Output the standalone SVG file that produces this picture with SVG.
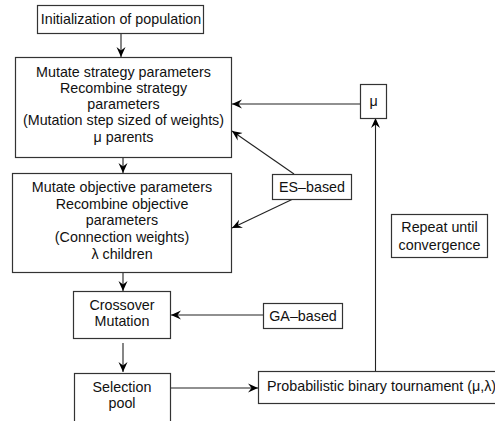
<svg xmlns="http://www.w3.org/2000/svg" width="495" height="421" viewBox="0 0 495 421">
<defs>
<marker id="ah" viewBox="-10 -5 11 10" refX="0" refY="0" markerWidth="11" markerHeight="10" markerUnits="userSpaceOnUse" orient="auto">
<path d="M0,0 L-10,-4.5 L-6.5,0 L-10,4.5 z" fill="#000"/>
</marker>
<style>
rect{fill:#fff;stroke:#333;stroke-width:1.2}
text{font-family:"Liberation Sans",Arial,sans-serif;font-size:14.3px;fill:#111;text-anchor:middle}
.c line{stroke:#222;stroke-width:1.1;marker-end:url(#ah)}
</style>
</defs>
<rect x="0" y="0" width="495" height="421" style="fill:#fff;stroke:none"/>
<g class="c" id="connectors">
<line x1="121" y1="33" x2="121" y2="57"/>
<line x1="123" y1="157" x2="123" y2="173"/>
<line x1="123" y1="272" x2="123" y2="291"/>
<line x1="123" y1="343" x2="123" y2="372"/>
<line x1="171" y1="388" x2="258" y2="388"/>
<line x1="375.5" y1="371" x2="375.5" y2="118"/>
<line x1="360" y1="104" x2="232" y2="104"/>
<line x1="294" y1="174" x2="232" y2="131"/>
<line x1="293" y1="199" x2="232" y2="228"/>
<line x1="263" y1="315" x2="171" y2="315"/>
</g>
<g id="init">
<rect x="37.5" y="5.5" width="166" height="28"/>
<text x="121" y="24">Initialization of population</text>
</g>
<g id="strategy">
<rect x="15.5" y="57.5" width="216" height="100"/>
<text x="123.5" y="77">Mutate strategy parameters</text>
<text x="123.5" y="93">Recombine strategy</text>
<text x="123.5" y="109">parameters</text>
<text x="123.5" y="125">(Mutation step sized of weights)</text>
<text x="123.5" y="142">μ parents</text>
</g>
<g id="objective">
<rect x="12.5" y="173.5" width="219" height="99"/>
<text x="122" y="192">Mutate objective parameters</text>
<text x="122" y="208.5">Recombine objective</text>
<text x="122" y="225">parameters</text>
<text x="122" y="241.5">(Connection weights)</text>
<text x="122" y="259">λ children</text>
</g>
<g id="crossover">
<rect x="73.5" y="291.5" width="97" height="47"/>
<text x="122" y="310">Crossover</text>
<text x="122" y="326">Mutation</text>
</g>
<g id="selection">
<rect x="74.5" y="373.5" width="96" height="52"/>
<text x="122" y="392">Selection</text>
<text x="122" y="408">pool</text>
</g>
<g id="tournament">
<rect x="258.5" y="371.5" width="260" height="32"/>
<text x="267" y="391" style="text-anchor:start">Probabilistic binary tournament (μ,λ)</text>
</g>
<g id="mu">
<rect x="360.5" y="84.5" width="26" height="34"/>
<text x="373.5" y="106">μ</text>
</g>
<g id="es">
<rect x="272.5" y="174.5" width="79" height="25"/>
<text x="312" y="192">ES–based</text>
</g>
<g id="ga">
<rect x="263.5" y="303.5" width="79" height="25"/>
<text x="303" y="321">GA–based</text>
</g>
<g id="repeat">
<rect x="391.5" y="214.5" width="96" height="43"/>
<text x="439.5" y="232">Repeat until</text>
<text x="439.5" y="250">convergence</text>
</g>
</svg>
